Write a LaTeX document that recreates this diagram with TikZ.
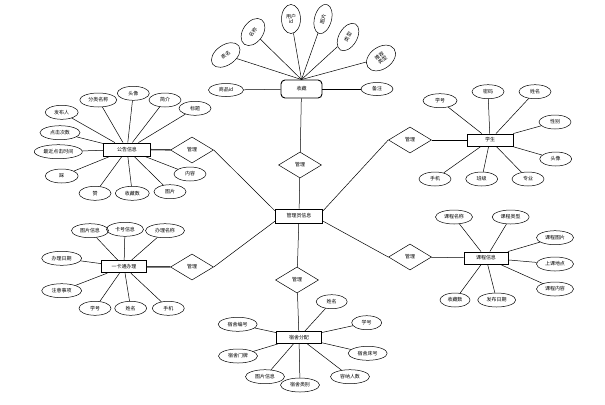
\documentclass[tikz,border=0pt]{standalone}
\usepackage{fontspec}
\setmainfont{Noto Sans CJK SC}
\usetikzlibrary{shapes.geometric}
\begin{document}
\begin{tikzpicture}[x=1bp,y=-1bp,
  txt/.style={font=\fontsize{5}{6}\selectfont},
  attr/.style={ellipse,draw,line width=0.5bp,inner sep=0pt,minimum width=#1,minimum height=14bp,txt},
  attr/.default=34bp,
  ent/.style={rectangle,draw,line width=0.9bp,minimum width=46bp,minimum height=13bp,inner sep=0pt,txt},
  rel/.style={diamond,draw,line width=0.5bp,minimum width=43bp,minimum height=26bp,inner sep=0pt,txt},
  conn/.style={line width=0.5bp},
  bold/.style={line width=1.4bp,black!75}]
\useasboundingbox (0,0) rectangle (605,404);

% ---- centre
\node[ent,minimum width=47bp,minimum height=14bp] (ctr) at (299,216) {管理员信息};
\node[rel] (r1) at (300,165) {管理};
\node[rel] (r2) at (297,280) {管理};
\node[rel] (r3) at (192,150) {管理};
\node[rel] (r4) at (192,267) {管理};
\node[rel] (r5) at (410,140) {管理};
\node[rel] (r6) at (410,257) {管理};

% ---- 收藏
\node[ent,rounded corners=4bp,minimum width=41bp,minimum height=18bp] (sc) at (301.5,89) {收藏};
\node[attr=32bp,minimum height=20bp,rotate=35] (s1) at (225.7,55) {表名};
\node[attr=30bp,minimum height=20bp,rotate=55] (s2) at (253,32) {名称};
\node[attr=19bp,minimum height=29bp,align=center,font=\fontsize{5}{5.5}\selectfont] (s3) at (291,19) {用户\\id};
\node[attr=30bp,minimum height=17bp,rotate=75] (s4) at (323,19) {图片};
\node[attr=30bp,minimum height=18bp,rotate=60] (s5) at (348,37) {类型};
\node[attr=32bp,minimum height=22bp,rotate=35,align=center,font=\fontsize{5}{5.5}\selectfont] (s6) at (381,58) {推荐\\类型};
\node[attr=35bp,minimum height=13bp] (s7) at (226,90) {商品id};
\node[attr=32bp,minimum height=13bp] (s8) at (377,89) {备注};
\foreach \n in {s1,s2,s3,s4,s5,s6} \draw[conn] (\n) -- (sc.north);
\draw[conn] (s7) -- (sc);
\draw[conn] (sc) -- (s8);
\draw[conn] (sc) -- (r1);
\draw[conn] (r1) -- (ctr);
\draw[conn] (ctr) -- (r2);

% ---- 公告信息
\node[ent,minimum width=47bp] (gg) at (127,149.5) {公告信息};
\node[attr=33bp] (g1) at (61.7,112.3) {发布人};
\node[attr=40bp] (g2) at (60,132.7) {点击次数};
\node[attr=48bp] (g3) at (58.3,151.7) {最近点击时间};
\node[attr=33bp] (g4) at (61.7,176) {踩};
\node[attr=37bp] (g5) at (98.3,100) {分类名称};
\node[attr=32bp] (g6) at (133.3,93.3) {头像};
\node[attr=32bp] (g7) at (165,100) {简介};
\node[attr=32bp] (g8) at (195,108.3) {标题};
\node[attr=32bp] (g9) at (190,174) {内容};
\node[attr=32bp] (g10) at (170,191.7) {图片};
\node[attr=34bp] (g11) at (132.3,193.3) {收藏数};
\node[attr=32bp] (g12) at (95,193.3) {赞};
\foreach \n in {g1,g2,g3,g4,g5,g6,g7,g8,g9,g10,g11,g12} \draw[conn] (\n) -- (gg);
\draw[bold] (gg) -- (r3);
\draw[conn] (r3.east) -- (ctr.168);

% ---- 一卡通办理
\node[ent,minimum width=45bp,minimum height=12bp] (yk) at (124,266.7) {一卡通办理};
\node[attr=37bp] (y1) at (90,230.7) {图片信息};
\node[attr=37bp] (y2) at (125,229.3) {卡号信息};
\node[attr=39bp] (y3) at (165,230.7) {办理名称};
\node[attr=40bp] (y4) at (61.7,258.3) {办理日期};
\node[attr=40bp] (y5) at (61.7,290.7) {注意事项};
\node[attr=32bp] (y6) at (95,308.3) {学号};
\node[attr=32bp] (y7) at (130.7,308.3) {姓名};
\node[attr=32bp] (y8) at (168.3,308.3) {手机};
\foreach \n in {y1,y2,y3,y4,y5,y6,y7,y8} \draw[conn] (\n) -- (yk);
\draw[bold] (yk) -- (r4);
\draw[conn] (r4.east) -- (ctr.192);

% ---- 学生
\node[ent,minimum width=46bp,minimum height=12bp] (xs) at (490,140) {学生};
\node[attr=34bp] (x1) at (440,100.7) {学号};
\node[attr=32bp] (x2) at (488,91.7) {密码};
\node[attr=32bp] (x3) at (535,91.7) {姓名};
\node[attr=32bp] (x4) at (555,122) {性别};
\node[attr=32bp] (x5) at (555.7,159) {头像};
\node[attr=32bp] (x6) at (528,179) {专业};
\node[attr=32bp] (x7) at (481.7,179) {班级};
\node[attr=32bp] (x8) at (435,179) {手机};
\foreach \n in {x1,x2,x3,x4,x5,x6,x7,x8} \draw[conn] (\n) -- (xs);
\draw[conn] (r5) -- (xs);
\draw[conn] (ctr.12) -- (r5.west);

% ---- 课程信息
\node[ent,minimum width=44bp,minimum height=12bp] (kc) at (486,258) {课程信息};
\node[attr=37bp] (k1) at (454,217) {课程名称};
\node[attr=37bp] (k2) at (510.7,217) {课程类型};
\node[attr=37bp] (k3) at (555,237.7) {课程图片};
\node[attr=37bp] (k4) at (555,264) {上课地点};
\node[attr=37bp] (k5) at (555,289) {课程内容};
\node[attr=30bp] (k6) at (455,300) {收藏数};
\node[attr=38bp] (k7) at (496.7,300) {发布日期};
\foreach \n in {k1,k2,k3,k4,k5,k6,k7} \draw[conn] (\n) -- (kc);
\draw[conn] (r6) -- (kc);
\draw[conn] (ctr.-12) -- (r6.west);

% ---- 宿舍分配
\node[ent,minimum width=45bp,minimum height=12bp] (ss) at (299,337.5) {宿舍分配};
\node[attr=39bp] (d1) at (237.7,324.3) {宿舍编号};
\node[attr=39bp] (d2) at (238,356) {宿舍门牌};
\node[attr=39bp] (d3) at (265,376.7) {图片信息};
\node[attr=39bp] (d4) at (300,385) {宿舍类别};
\node[attr=39bp] (d5) at (350,376.7) {容纳人数};
\node[attr=39bp] (d6) at (367.7,353.3) {宿舍床号};
\node[attr=30bp] (d7) at (366.7,322.7) {学号};
\node[attr=31bp] (d8) at (331.7,301.7) {姓名};
\foreach \n in {d1,d2,d3,d4,d5,d6,d7,d8} \draw[conn] (\n) -- (ss);
\draw[conn] (r2) -- (ss);
\end{tikzpicture}
\end{document}
